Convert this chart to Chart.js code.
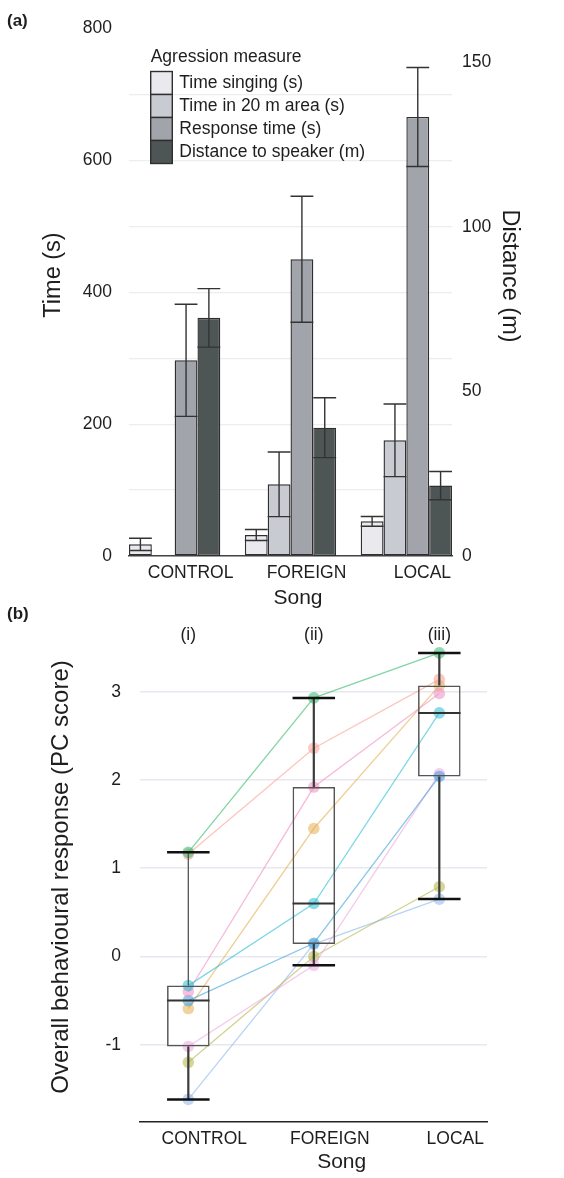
<!DOCTYPE html>
<html><head><meta charset="utf-8">
<script src="https://cdn.jsdelivr.net/npm/chart.js@4.4.1/dist/chart.umd.min.js"></script>
<style>
html,body{margin:0;padding:0;background:#fff;width:564px;height:1178px;overflow:hidden;}
#wrap{position:relative;width:564px;height:1178px;}
canvas{position:absolute;left:0;}
#c1{top:0;} #c2{top:600px;}
</style></head><body>
<div id="wrap">
<canvas id="c1" width="564" height="620"></canvas>
<canvas id="c2" width="564" height="578"></canvas>
</div>
<script>
// ---------------- data: panel (a) ----------------
const songs = ['CONTROL', 'FOREIGN', 'LOCAL'];
const measureLabels = ['Time singing (s)', 'Time in 20 m area (s)', 'Response time (s)', 'Distance to speaker (m)'];
const timeSinging = [17.7, 31.8, 52.6];
const timeSingingErr = [9.3, 8.3, 7.4];
const timeIn20m = [0, 108.7, 175.4];
const timeIn20mErr = [null, 49, 55];
const responseTime = [296.7, 449.9, 665.7];
const responseTimeErr = [85, 95.5, 75];
const distanceToSpeaker = [72.4, 39.0, 21.4];
const distanceErr = [8.9, 9.1, 4.3];
const timeTicks = [0, 200, 400, 600, 800];
const distanceTicks = [0, 50, 100, 150];

// ---------------- data: panel (b) ----------------
const panelLabels = ['(i)', '(ii)', '(iii)'];
const controlScores = [1.18, 1.16, -0.33, -0.40, -0.50, -0.59, -1.02, -1.20, -1.62];
const foreignScores = [2.93, 2.36, 0.60, 1.92, 0.15, 1.45, -0.10, 0.00, 0.14];
const localScores   = [3.44, 3.14, 2.76, 2.98, 2.04, 3.07, 2.07, 0.79, 0.65];
const boxQ1 = [-1.02, 0.14, 2.04];
const boxMedian = [-0.50, 0.60, 2.76];
const boxQ3 = [-0.33, 1.92, 3.07];
const whiskerLow = [-1.62, -0.10, 0.65];
const whiskerHigh = [1.18, 2.93, 3.44];
const pcTicks = [-1, 0, 1, 2, 3];

// ---------------- styles ----------------
const FONT = '"Liberation Sans", Arial, Helvetica, sans-serif';
Chart.defaults.font.family = FONT;
Chart.defaults.font.size = 17.5;
Chart.defaults.color = '#1e1e1e';
const barFills = ['#e9e9ee', '#c9cbd2', '#a1a4aa', '#4e5655'];
const birdPalette = ['50,185,105', '248,160,145', '40,190,210', '240,140,195', '60,160,222',
                     '228,175,80', '238,165,222', '180,180,70', '140,182,236'];

const textPlugin = {
  id: 'axisTexts',
  afterDraw(chart, args, opts) {
    const ctx = chart.ctx;
    (opts.items || []).forEach(it => {
      ctx.save();
      ctx.font = it.font;
      ctx.fillStyle = '#1e1e1e';
      ctx.textAlign = it.align || 'center';
      ctx.textBaseline = 'middle';
      ctx.translate(it.x, it.y);
      if (it.rot) ctx.rotate(it.rot);
      ctx.fillText(it.text, 0, 0);
      ctx.restore();
    });
    if (opts.panel) {
      const xs = chart.scales.x;
      ctx.save();
      ctx.font = '17.5px ' + FONT;
      ctx.fillStyle = '#1e1e1e';
      ctx.textAlign = 'center';
      ctx.textBaseline = 'middle';
      opts.panel.forEach((t, i) => ctx.fillText(t, xs.getPixelForValue(i), opts.panelY));
      ctx.restore();
    }
  }
};

const errorBarPlugin = {
  id: 'errorBars',
  afterDatasetsDraw(chart) {
    const ctx = chart.ctx;
    chart.data.datasets.forEach((ds, i) => {
      if (!ds.errors) return;
      const meta = chart.getDatasetMeta(i);
      const ys = chart.scales[ds.yAxisID];
      meta.data.forEach((el, j) => {
        const e = ds.errors[j];
        if (e == null) return;
        const v = ds.data[j].y;
        const yT = ys.getPixelForValue(v + e), yB = ys.getPixelForValue(v - e);
        const half = el.width / 2;
        ctx.save();
        ctx.strokeStyle = '#333';
        ctx.lineWidth = 1.4;
        ctx.beginPath();
        ctx.moveTo(el.x, yT); ctx.lineTo(el.x, yB);
        ctx.moveTo(el.x - half, yT); ctx.lineTo(el.x + half, yT);
        ctx.moveTo(el.x - half, yB); ctx.lineTo(el.x + half, yB);
        ctx.stroke();
        ctx.restore();
      });
    });
  }
};

const boxLegendPlugin = {
  id: 'boxLegend',
  afterDraw(chart, args, opts) {
    const ctx = chart.ctx;
    ctx.save();
    ctx.font = '17.5px ' + FONT;
    ctx.textBaseline = 'middle';
    ctx.textAlign = 'left';
    ctx.fillStyle = '#1e1e1e';
    ctx.fillText(opts.title, opts.x, opts.y);
    let y = opts.firstTop;
    chart.data.datasets.forEach(ds => {
      ctx.fillStyle = ds.backgroundColor;
      ctx.fillRect(opts.x, y, opts.boxW, opts.boxH);
      ctx.strokeStyle = '#2f2f2f';
      ctx.lineWidth = 1.4;
      ctx.strokeRect(opts.x, y, opts.boxW, opts.boxH);
      ctx.fillStyle = '#1e1e1e';
      ctx.fillText(ds.label, opts.x + opts.boxW + 7, y + opts.boxH / 2 + 0.5);
      y += opts.boxH;
    });
    ctx.restore();
  }
};

const toXY = arr => arr.map((v, i) => ({ x: i, y: v }));
const seriesVals = [timeSinging, timeIn20m, responseTime, distanceToSpeaker];
const seriesErr = [timeSingingErr, timeIn20mErr, responseTimeErr, distanceErr];

// ---------------- chart (a) ----------------
new Chart(document.getElementById('c1'), {
  type: 'bar',
  data: {
    datasets: seriesVals.map((vals, k) => ({
      label: measureLabels[k],
      data: toXY(vals),
      yAxisID: k === 3 ? 'y2' : 'y',
      backgroundColor: barFills[k],
      borderColor: '#2f2f2f',
      borderWidth: 1.4,
      borderSkipped: false,
      categoryPercentage: 0.788,
      barPercentage: 1,
      errors: seriesErr[k]
    }))
  },
  options: {
    responsive: false, animation: false, devicePixelRatio: 1,
    layout: { padding: { top: 28.4, left: 0, right: 0, bottom: 0 } },
    plugins: {
      legend: { display: false }, tooltip: { enabled: false },
      boxLegend: { title: 'Agression measure', x: 150.7, y: 57, firstTop: 71.5, boxW: 21.6, boxH: 23 },
      axisTexts: { items: [
        { text: '(a)', x: 7, y: 21, font: 'bold 17px ' + FONT, align: 'left' },
        { text: 'Time (s)', x: 54, y: 275, rot: -Math.PI / 2, font: '23.5px ' + FONT },
        { text: 'Distance (m)', x: 509, y: 276, rot: Math.PI / 2, font: '23.5px ' + FONT },
        { text: 'Song', x: 298, y: 598, font: '21px ' + FONT }
      ] }
    },
    scales: {
      x: {
        type: 'linear', min: -0.394, max: 2.394, offset: false,
        afterBuildTicks: s => { s.ticks = songs.map((_, i) => ({ value: i })); },
        ticks: { callback: v => songs[v], labelOffset: 16, padding: 7, maxRotation: 0, autoSkip: false },
        grid: { display: false, drawTicks: false },
        border: { display: true, color: '#444', width: 1.5 },
        afterFit: s => { s.height = 64; }
      },
      y: {
        position: 'left', min: 0, max: 800,
        ticks: { stepSize: 100, padding: 17, callback: v => timeTicks.includes(v) ? String(v) : '' },
        grid: { drawTicks: false, lineWidth: 1.2,
                color: c => (c.tick && c.tick.value === 800) ? 'rgba(0,0,0,0)' : '#ececf1' },
        border: { display: false },
        afterFit: s => { s.width = 129; }
      },
      y2: {
        position: 'right', min: 0, max: 160.4,
        afterBuildTicks: s => { s.ticks = distanceTicks.map(v => ({ value: v })); },
        ticks: { padding: 10, callback: v => String(v) },
        grid: { display: false, drawTicks: false },
        border: { display: false },
        afterFit: s => { s.width = 112; }
      }
    }
  },
  plugins: [errorBarPlugin, boxLegendPlugin, textPlugin]
});

// ---------------- chart (b) ----------------
const birdDatasets = controlScores.map((c, k) => ({
  type: 'line',
  label: 'individual ' + (k + 1),
  data: [{ x: 0, y: c }, { x: 1, y: foreignScores[k] }, { x: 2, y: localScores[k] }],
  borderColor: 'rgba(' + birdPalette[k] + ',0.6)',
  borderWidth: 1.3,
  pointRadius: 5.8,
  pointBackgroundColor: 'rgba(' + birdPalette[k] + ',0.55)',
  pointBorderWidth: 0,
  pointBorderColor: 'rgba(0,0,0,0)',
  order: 4,
  clip: false
}));

const whiskerData = [];
songs.forEach((_, i) => {
  whiskerData.push({ x: i, y: boxQ3[i] }, { x: i, y: whiskerHigh[i] }, { x: i, y: null },
                   { x: i, y: boxQ1[i] }, { x: i, y: whiskerLow[i] }, { x: i, y: null });
});

new Chart(document.getElementById('c2'), {
  type: 'bar',
  data: {
    datasets: [
      ...birdDatasets,
      {
        type: 'bar', label: 'box',
        data: songs.map((_, i) => ({ x: i, y: [boxQ1[i], boxQ3[i]] })),
        backgroundColor: 'rgba(0,0,0,0)', borderColor: '#555', borderWidth: 1.5,
        borderSkipped: false, categoryPercentage: 0.339, barPercentage: 1, order: 3
      },
      {
        type: 'line', label: 'whiskers', data: whiskerData,
        borderColor: '#3c3c3c', borderWidth: 2, pointRadius: 0, spanGaps: false, order: 2,
        segment: { borderWidth: c => c.p0DataIndex === 0 ? 1.3 : 2.2,
                   borderColor: c => c.p0DataIndex === 0 ? '#555' : '#3c3c3c' }
      },
      {
        type: 'line', label: 'median', data: toXY(boxMedian), showLine: false,
        pointStyle: 'line', pointRadius: 21.25, pointBorderWidth: 2, pointBorderColor: '#333', order: 1
      },
      {
        type: 'line', label: 'caps',
        data: [...toXY(whiskerLow), ...toXY(whiskerHigh)], showLine: false,
        pointStyle: 'line', pointRadius: 21.25, pointBorderWidth: 2.5, pointBorderColor: '#111', order: 0, clip: false
      }
    ]
  },
  options: {
    responsive: false, animation: false, devicePixelRatio: 1,
    layout: { padding: { top: 38.8, left: 0, right: 77, bottom: 0 } },
    plugins: {
      legend: { display: false }, tooltip: { enabled: false },
      axisTexts: {
        panel: panelLabels, panelY: 35,
        items: [
          { text: '(b)', x: 7, y: 14, font: 'bold 17px ' + FONT, align: 'left' },
          { text: 'Overall behavioural response (PC score)', x: 61, y: 277, rot: -Math.PI / 2, font: '24px ' + FONT },
          { text: 'Song', x: 341.7, y: 562, font: '21px ' + FONT }
        ]
      }
    },
    scales: {
      x: {
        type: 'linear', min: -0.385, max: 2.38, offset: false,
        afterBuildTicks: s => { s.ticks = songs.map((_, i) => ({ value: i })); },
        ticks: { callback: v => songs[v], labelOffset: 16, padding: 7, maxRotation: 0, autoSkip: false },
        grid: { display: false, drawTicks: false },
        border: { display: true, color: '#222', width: 1.5 },
        afterFit: s => { s.height = 56; }
      },
      y: {
        min: -1.876, max: 3.6,
        afterBuildTicks: s => { s.ticks = pcTicks.map(v => ({ value: v })); },
        ticks: { padding: 19, callback: v => String(v) },
        grid: { drawTicks: false, color: '#e8e8f0', lineWidth: 1.5 },
        border: { display: false },
        afterFit: s => { s.width = 140; }
      }
    }
  },
  plugins: [textPlugin]
});
</script>
</body></html>
